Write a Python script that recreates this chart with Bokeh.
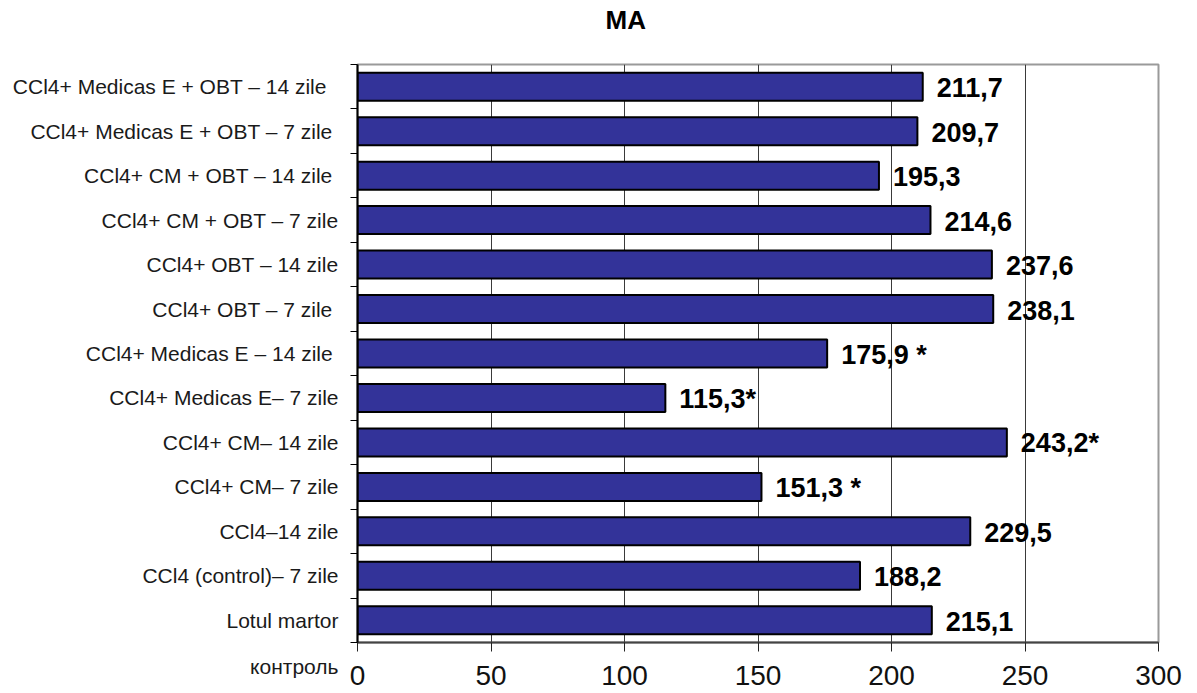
import numpy as np
from bokeh.plotting import figure
from bokeh.models import FixedTicker, Title, ColumnDataSource
from bokeh.core.properties import value
from bokeh.embed import file_html
from bokeh.resources import INLINE

# Data (bottom to top)
categories = [
    "Lotul martor",
    "CCl4 (control)– 7 zile",
    "CCl4–14 zile",
    "CCl4+ CM– 7 zile",
    "CCl4+ CM– 14 zile",
    "CCl4+ Medicas E– 7 zile",
    "CCl4+ Medicas E  – 14 zile",
    "CCl4+ OBT  – 7 zile",
    "CCl4+ OBT – 14 zile",
    "CCl4+ CM + OBT – 7 zile",
    "CCl4+ CM  + OBT – 14 zile",
    "CCl4+ Medicas E  + OBT – 7 zile",
    "CCl4+ Medicas E  + OBT  – 14 zile",
]
values = [215.1, 188.2, 229.5, 151.3, 243.2, 115.3, 175.9, 238.1, 237.6, 214.6, 195.3, 209.7, 211.7]
marks = ["", "", "", " *", "*", "*", " *", "", "", "", "", "", ""]
x_ticks = [0, 50, 100, 150, 200, 250, 300]
title_text = "MA"
corner_text = "контроль"

n = len(categories)
pos = (np.arange(n) + 0.5).tolist()
texts = [("%.1f" % v).replace(".", ",") + m for v, m in zip(values, marks)]

src = ColumnDataSource(dict(y=pos, v=values, t=texts))

p = figure(frame_width=801, frame_height=578,
           x_range=(0, 300), y_range=(0, n),
           output_backend="svg", toolbar_location=None,
           min_border_left=357, min_border_right=39,
           min_border_top=64, min_border_bottom=51,
           background_fill_color="white", border_fill_color="white")

# title, with an empty second line so that it sits higher above the frame
p.add_layout(Title(text=title_text + "\n", align="left", offset=248,
                   text_font="Liberation Sans", text_font_size="26px",
                   text_font_style="bold", text_color="black",
                   text_line_height=1.0, standoff=0), "above")

p.outline_line_color = "#9a9a9a"
p.outline_line_width = 2

# grid
p.xgrid.ticker = FixedTicker(ticks=x_ticks[1:-1])
p.xgrid.grid_line_color = "#3a3a3a"
p.xgrid.grid_line_width = 1
p.ygrid.visible = False

p.hbar(y="y", right="v", left=0, height=0.63, source=src,
       fill_color="#333399", line_color="black", line_width=2)

p.text(x="v", y="y", text="t", source=src, x_offset=14, y_offset=1,
       text_baseline="middle", text_align="left",
       text_font=value("Liberation Sans"), text_font_size="27px",
       text_font_style="bold", text_color="black")

# x axis
xa = p.xaxis[0]
xa.ticker = FixedTicker(ticks=x_ticks, minor_ticks=[])
xa.axis_line_color = "#444444"
xa.axis_line_width = 2
xa.major_tick_in = 0
xa.major_tick_out = 9
xa.major_tick_line_color = "#222222"
xa.major_tick_line_width = 1
xa.major_label_standoff = 14
xa.major_label_text_font = "Liberation Sans"
xa.major_label_text_font_size = "28px"
xa.major_label_text_color = "#111111"

# y axis: category labels at bar centres, small ticks at the band boundaries,
# plus the corner caption under the lowest band
ya = p.yaxis[0]
ya.ticker = FixedTicker(ticks=[0] + pos, minor_ticks=list(range(n + 1)))
overrides = {pv: c for pv, c in zip(pos, categories)}
overrides[0] = "\n\n" + corner_text
ya.major_label_overrides = overrides
ya.axis_line_color = "black"
ya.axis_line_width = 2
ya.major_tick_in = 0
ya.major_tick_out = 0
ya.minor_tick_in = 0
ya.minor_tick_out = 7
ya.minor_tick_line_color = "black"
ya.minor_tick_line_width = 1
ya.major_label_standoff = 12
ya.major_label_text_font = "Liberation Sans"
ya.major_label_text_font_size = "21px"
ya.major_label_text_line_height = 1.05
ya.major_label_text_color = "#1a1a1a"

open("out.html", "w").write(file_html(p, INLINE))
